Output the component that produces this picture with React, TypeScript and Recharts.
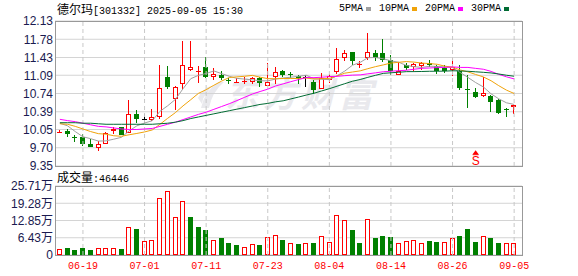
import React from 'react'
import {
  ComposedChart, Bar, Line, XAxis, YAxis, CartesianGrid, ReferenceLine, ReferenceDot,
} from 'recharts'

// ── Data ──────────────────────────────────────────────────────────────────────

const dates = [
  '06-16', '06-17', '06-18', '06-19', '06-20', '06-23', '06-24', '06-25', '06-26', '06-27',
  '06-30', '07-01', '07-02', '07-03', '07-04', '07-07', '07-08', '07-09', '07-10', '07-11',
  '07-14', '07-15', '07-16', '07-17', '07-18', '07-21', '07-22', '07-23', '07-24', '07-25',
  '07-28', '07-29', '07-30', '07-31', '08-01', '08-04', '08-05', '08-06', '08-07', '08-08',
  '08-11', '08-12', '08-13', '08-14', '08-15', '08-18', '08-19', '08-20', '08-21', '08-22',
  '08-25', '08-26', '08-27', '08-28', '08-29', '09-01', '09-02', '09-03', '09-04', '09-05',
]

const opens = [
  10.00, 10.02, 9.91, 9.90, 9.77, 9.69, 9.78, 10.02, 10.09, 9.99,
  10.34, 10.26, 10.24, 10.28, 11.05, 10.63, 10.92, 11.19, 11.16, 11.25,
  11.05, 11.09, 10.99, 10.96, 10.97, 10.97, 11.03, 10.89, 11.05, 11.18,
  11.12, 11.08, 11.06, 10.96, 10.82, 10.99, 11.15, 11.42, 11.53, 11.30,
  11.42, 11.52, 11.52, 11.39, 11.10, 11.28, 11.25, 11.27, 11.33, 11.27,
  11.23, 11.20, 11.17, 10.82, 10.77, 10.70, 10.70, 10.61, 10.44, 10.48,
]
const highs = [
  10.04, 10.05, 9.95, 9.96, 9.86, 9.82, 10.01, 10.10, 10.10, 10.61,
  10.43, 10.34, 10.45, 11.29, 11.27, 10.89, 11.74, 11.74, 11.27, 11.44,
  11.23, 11.17, 11.04, 11.04, 11.05, 11.06, 11.06, 11.32, 11.24, 11.20,
  11.15, 11.10, 11.10, 10.99, 11.13, 11.11, 11.62, 11.58, 11.53, 11.37,
  11.90, 11.58, 11.78, 11.47, 11.34, 11.33, 11.33, 11.34, 11.38, 11.29,
  11.28, 11.42, 11.29, 11.10, 10.84, 11.06, 10.72, 10.63, 10.47, 10.52,
]
const lows = [
  9.98, 9.91, 9.81, 9.73, 9.71, 9.63, 9.78, 9.96, 9.94, 9.98,
  10.18, 10.16, 10.21, 10.25, 10.82, 10.43, 10.80, 11.17, 10.94, 11.04,
  10.99, 11.00, 10.92, 10.94, 10.92, 10.92, 10.87, 10.89, 10.92, 11.06,
  11.04, 10.92, 10.86, 10.73, 10.82, 10.94, 11.11, 11.36, 11.29, 11.23,
  11.38, 11.37, 11.34, 11.10, 11.09, 11.20, 11.18, 11.20, 11.25, 11.11,
  11.13, 11.08, 10.81, 10.47, 10.65, 10.68, 10.39, 10.35, 10.28, 10.35,
]
const closes = [
  10.01, 9.97, 9.90, 9.77, 9.72, 9.78, 9.99, 10.06, 9.95, 10.34,
  10.26, 10.26, 10.28, 10.85, 10.87, 10.87, 11.29, 11.24, 11.17, 11.05,
  11.11, 11.04, 10.98, 10.97, 10.98, 11.04, 10.95, 10.96, 11.15, 11.09,
  11.11, 11.04, 11.06, 10.81, 11.04, 11.08, 11.41, 11.51, 11.37, 11.31,
  11.53, 11.43, 11.39, 11.17, 11.18, 11.22, 11.31, 11.32, 11.28, 11.17,
  11.17, 11.24, 10.85, 10.81, 10.68, 10.75, 10.58, 10.37, 10.43, 10.52,
]

// 成交量 (手)
const volumes = [
  21100, 26100, 18600, 26100, 18600, 24800, 24800, 24800, 22400, 103100,
  96900, 52200, 54700, 211100, 237200, 140400, 200000, 141600, 104300, 93200,
  55900, 63300, 44700, 37300, 29800, 39700, 37300, 67100, 73300, 57100,
  43500, 41000, 44700, 44700, 69600, 48400, 147800, 129200, 93200, 44700,
  132900, 63300, 70800, 67100, 43500, 52200, 55900, 44700, 52200, 49700,
  48400, 62100, 70800, 96900, 49700, 69600, 63300, 44700, 44700, 46446,
]

const ma5 = [
  10.17, 10.12, 10.01, 9.91, 9.874, 9.828, 9.832, 9.864, 9.90, 10.024,
  10.12, 10.174, 10.218, 10.398, 10.504, 10.626, 10.832, 11.024, 11.088, 11.124,
  11.172, 11.122, 11.07, 11.03, 11.016, 11.002, 10.984, 10.982, 11.016, 11.038,
  11.052, 11.07, 11.09, 11.022, 11.012, 11.006, 11.08, 11.17, 11.282, 11.336,
  11.426, 11.43, 11.406, 11.366, 11.34, 11.278, 11.254, 11.24, 11.262, 11.26,
  11.25, 11.236, 11.142, 11.048, 10.95, 10.866, 10.734, 10.638, 10.562, 10.53,
]
const ma10 = [
  10.16, 10.15, 10.11, 10.06, 10.01, 9.97, 9.96, 9.93, 9.92, 9.949,
  9.974, 10.003, 10.041, 10.149, 10.264, 10.373, 10.503, 10.621, 10.743, 10.813,
  10.898, 10.977, 11.047, 11.059, 11.07, 11.087, 11.053, 11.025, 11.023, 11.027,
  11.027, 11.027, 11.036, 11.019, 11.025, 11.029, 11.075, 11.13, 11.152, 11.174,
  11.216, 11.255, 11.288, 11.324, 11.338, 11.352, 11.342, 11.323, 11.314, 11.30,
  11.264, 11.245, 11.191, 11.155, 11.105, 11.058, 10.985, 10.89, 10.805, 10.74,
]
const ma20 = [
  10.245, 10.22, 10.20, 10.17, 10.14, 10.11, 10.10, 10.08, 10.06, 10.05,
  10.05, 10.06, 10.07, 10.11, 10.15, 10.19, 10.24, 10.29, 10.34, 10.381,
  10.436, 10.49, 10.544, 10.604, 10.667, 10.73, 10.778, 10.823, 10.883, 10.925,
  10.967, 11.007, 11.046, 11.044, 11.052, 11.063, 11.069, 11.082, 11.092, 11.097,
  11.117, 11.136, 11.157, 11.167, 11.177, 11.186, 11.205, 11.223, 11.229, 11.237,
  11.24, 11.25, 11.24, 11.24, 11.222, 11.205, 11.164, 11.107, 11.06, 11.02,
]
const ma30 = [
  10.18, 10.18, 10.18, 10.17, 10.17, 10.16, 10.15, 10.15, 10.15, 10.15,
  10.15, 10.15, 10.15, 10.16, 10.17, 10.19, 10.22, 10.26, 10.29, 10.32,
  10.35, 10.38, 10.41, 10.44, 10.47, 10.50, 10.53, 10.55, 10.58, 10.60,
  10.636, 10.672, 10.71, 10.745, 10.789, 10.832, 10.88, 10.928, 10.975, 11.008,
  11.05, 11.089, 11.126, 11.137, 11.147, 11.159, 11.16, 11.162, 11.166, 11.167,
  11.169, 11.176, 11.172, 11.166, 11.156, 11.146, 11.134, 11.114, 11.09, 11.071,
]

const priceTicks = [9.35, 9.70, 10.05, 10.39, 10.74, 11.09, 11.43, 11.78, 12.13]
const volTicks = [0, 64300, 128500, 192800, 257100]
const dateTicks = ['06-19', '07-01', '07-11', '07-23', '08-04', '08-14', '08-26', '09-05']

const signalDate = '08-29'
const signalPrice = 9.5

// ── Styles ────────────────────────────────────────────────────────────────────

const RED = '#ff0000'
const GREEN = '#008000'
const AXIS_TEXT = '#1a1a50'
const GRID = '#d4d4d4'
const FRAME = '#999999'
const MONO = '"Liberation Mono", "Noto Sans CJK SC", monospace'
const CJK = '"Noto Sans CJK SC", sans-serif'

const maSeries = [
  { key: 'ma5', name: '5PMA', color: '#a0a0a0' },
  { key: 'ma10', name: '10PMA', color: '#f0a30a' },
  { key: 'ma20', name: '20PMA', color: '#ff00ff' },
  { key: 'ma30', name: '30PMA', color: '#006b33' },
]

const rows = dates.map((date, i) => ({
  date,
  open: opens[i],
  high: highs[i],
  low: lows[i],
  close: closes[i],
  range: [lows[i], highs[i]],
  vol: volumes[i],
  volUp: i === 0 ? closes[0] >= opens[0] : closes[i] >= closes[i - 1],
  ma5: ma5[i],
  ma10: ma10[i],
  ma20: ma20[i],
  ma30: ma30[i],
}))

// ── Shapes ────────────────────────────────────────────────────────────────────

function Candle(props: any) {
  let { x, y, width, height } = props
  const { open, close, high, low } = props.payload
  if (height < 0) { y += height; height = -height }
  const span = high - low || 1
  const toY = (v: number) => y + ((high - v) / span) * height
  const p = Math.floor(x + width / 2)
  const cx = p + 0.5
  const color = close > open ? RED : close < open ? GREEN : '#000'
  const top = Math.round(toY(Math.max(open, close)))
  const bot = Math.round(toY(Math.min(open, close)))
  const yh = Math.round(toY(high))
  const yl = Math.round(toY(low))

  if (bot - top < 2) {
    return (
      <g>
        <line x1={cx} x2={cx} y1={yh} y2={yl} stroke={color} strokeWidth={1} />
        <line x1={p - 2} x2={p + 3} y1={top + 0.5} y2={top + 0.5} stroke={color} strokeWidth={1} />
      </g>
    )
  }
  if (close > open) {
    return (
      <g>
        <line x1={cx} x2={cx} y1={yh} y2={top} stroke={color} />
        <line x1={cx} x2={cx} y1={bot} y2={yl} stroke={color} />
        <rect x={p - 1.5} y={top + 0.5} width={4} height={bot - top - 1} fill="#fff" stroke={color} />
      </g>
    )
  }
  return (
    <g>
      <line x1={cx} x2={cx} y1={yh} y2={yl} stroke={color} />
      <rect x={p - 2} y={top} width={5} height={bot - top} fill={color} />
    </g>
  )
}

function VolBar(props: any) {
  const { x, y, width, height, payload } = props
  const p = Math.floor(x + width / 2)
  const top = Math.round(y)
  const h = Math.round(y + height) - top
  if (payload.volUp) {
    return <rect x={p - 1.5} y={top + 0.5} width={4} height={Math.max(h - 1, 0)} fill="#fff" stroke={RED} />
  }
  return <rect x={p - 2} y={top} width={5} height={h} fill={GREEN} />
}

function SignalMark(props: any) {
  const { cx, cy } = props
  return (
    <g>
      <path d={`M${cx} ${cy - 8} L${cx - 3} ${cy - 4} L${cx + 3} ${cy - 4} Z`} fill={RED} />
      <line x1={cx - 3} x2={cx + 3} y1={cy - 3.5} y2={cy - 3.5} stroke={RED} />
      <text x={cx} y={cy + 7} textAnchor="middle" fill={RED}
        style={{ fontSize: 12, fontFamily: '"Liberation Sans", sans-serif' }}>
        S
      </text>
    </g>
  )
}

// ── Component ─────────────────────────────────────────────────────────────────

const xPadding = { left: 1, right: 4 }

export default function App() {
  return (
    <div style={{ position: 'absolute', left: 0, top: 0, width: 578, height: 276, background: '#fff', overflow: 'hidden' }}>
      {/* watermark */}
      <svg style={{ position: 'absolute', left: 197, top: 80 }} width={28} height={30}>
        <path d="M4 28 Q8 10 22 2 L27 2 Q15 12 12 28 Z" fill="#e9e9ed" />
        <path d="M1 18 Q6 8 14 6 L10 14 Q6 16 5 24 Z" fill="#e9e9ed" />
      </svg>
      <div style={{
        position: 'absolute', left: 225, top: 75, fontFamily: CJK, fontSize: 34, fontWeight: 700,
        fontStyle: 'italic', color: '#e9e9ed', letterSpacing: 4, lineHeight: '36px', whiteSpace: 'nowrap',
      }}>
        东方财富
      </div>

      {/* price panel */}
      <div style={{ position: 'absolute', left: 0, top: 0 }}>
        <ComposedChart width={578} height={176} data={rows} margin={{ top: 21, right: 56, bottom: 10, left: 0 }}>
          <CartesianGrid vertical={false} stroke={GRID} />
          <XAxis dataKey="date" hide padding={xPadding} />
          <YAxis
            type="number" domain={[9.35, 12.13]} ticks={priceTicks} interval={0} allowDataOverflow width={55}
            axisLine={false} tickLine={false} tickSize={2} tickMargin={0}
            tickFormatter={(v: number) => v.toFixed(2)}
            tick={{ fill: AXIS_TEXT, fontSize: 12, fontFamily: '"Liberation Sans", sans-serif' }}
          />
          {dateTicks.map((d) => (
            <ReferenceLine key={d} x={d} stroke="#c8c8c8" strokeDasharray="4 3" />
          ))}
          <Bar dataKey="range" barSize={5} isAnimationActive={false} shape={(p: any) => <Candle {...p} />} />
          {maSeries.map((s) => (
            <Line key={s.key} type="linear" dataKey={s.key} stroke={s.color} strokeWidth={1}
              dot={false} activeDot={false} isAnimationActive={false} />
          ))}
          <ReferenceDot x={signalDate} y={signalPrice} r={0} shape={(p: any) => <SignalMark {...p} />} />
        </ComposedChart>
      </div>

      {/* volume panel */}
      <div style={{ position: 'absolute', left: 0, top: 170 }}>
        <ComposedChart width={578} height={106} data={rows} margin={{ top: 16, right: 56, bottom: 0, left: 0 }}>
          <CartesianGrid vertical={false} stroke={GRID} />
          <XAxis
            dataKey="date" ticks={dateTicks} interval={0} height={21} padding={xPadding}
            axisLine={false} tickLine={false} tickSize={6} tickMargin={1}
            tick={{ fill: RED, fontSize: 10, fontFamily: MONO }}
          />
          <YAxis
            type="number" domain={[0, 257100]} ticks={volTicks} interval={0} allowDataOverflow width={55}
            axisLine={false} tickLine={false} tickSize={2} tickMargin={0}
            tickFormatter={(v: number) => (v === 0 ? '0' : (v / 10000).toFixed(2) + '万')}
            tick={{ fill: AXIS_TEXT, fontSize: 12, fontFamily: '"Liberation Sans", "Noto Sans CJK SC", sans-serif' }}
          />
          {dateTicks.map((d) => (
            <ReferenceLine key={d} x={d} stroke="#c8c8c8" strokeDasharray="4 3" />
          ))}
          <Bar dataKey="vol" barSize={5} isAnimationActive={false} shape={(p: any) => <VolBar {...p} />} />
        </ComposedChart>
      </div>

      {/* frames */}
      <div style={{ position: 'absolute', left: 55, top: 21, width: 468, height: 146, border: `1px solid ${FRAME}`, boxSizing: 'border-box', pointerEvents: 'none' }} />
      <div style={{ position: 'absolute', left: 55, top: 186, width: 468, height: 70, border: `1px solid ${FRAME}`, boxSizing: 'border-box', pointerEvents: 'none' }} />

      {/* titles */}
      <div style={{ position: 'absolute', left: 57, top: 2, lineHeight: '13px', whiteSpace: 'nowrap', color: '#000' }}>
        <span style={{ fontFamily: CJK, fontSize: 12 }}>德尔玛</span>
        <span style={{ fontFamily: MONO, fontSize: 10 }}>[301332] 2025-09-05 15:30</span>
      </div>
      <div style={{ position: 'absolute', left: 339, top: 2, lineHeight: '13px', display: 'flex', alignItems: 'center', whiteSpace: 'nowrap' }}>
        {maSeries.map((s) => (
          <span key={s.key} style={{ display: 'flex', alignItems: 'center', marginRight: 8 }}>
            <span style={{ fontFamily: MONO, fontSize: 10, color: '#000' }}>{s.name}</span>
            <span style={{ display: 'inline-block', width: 5, height: 4, background: s.color, marginLeft: 3 }} />
          </span>
        ))}
      </div>
      <div style={{ position: 'absolute', left: 57, top: 170, lineHeight: '13px', whiteSpace: 'nowrap', color: '#000' }}>
        <span style={{ fontFamily: CJK, fontSize: 12 }}>成交量</span>
        <span style={{ fontFamily: MONO, fontSize: 10 }}>:46446</span>
      </div>
    </div>
  )
}
